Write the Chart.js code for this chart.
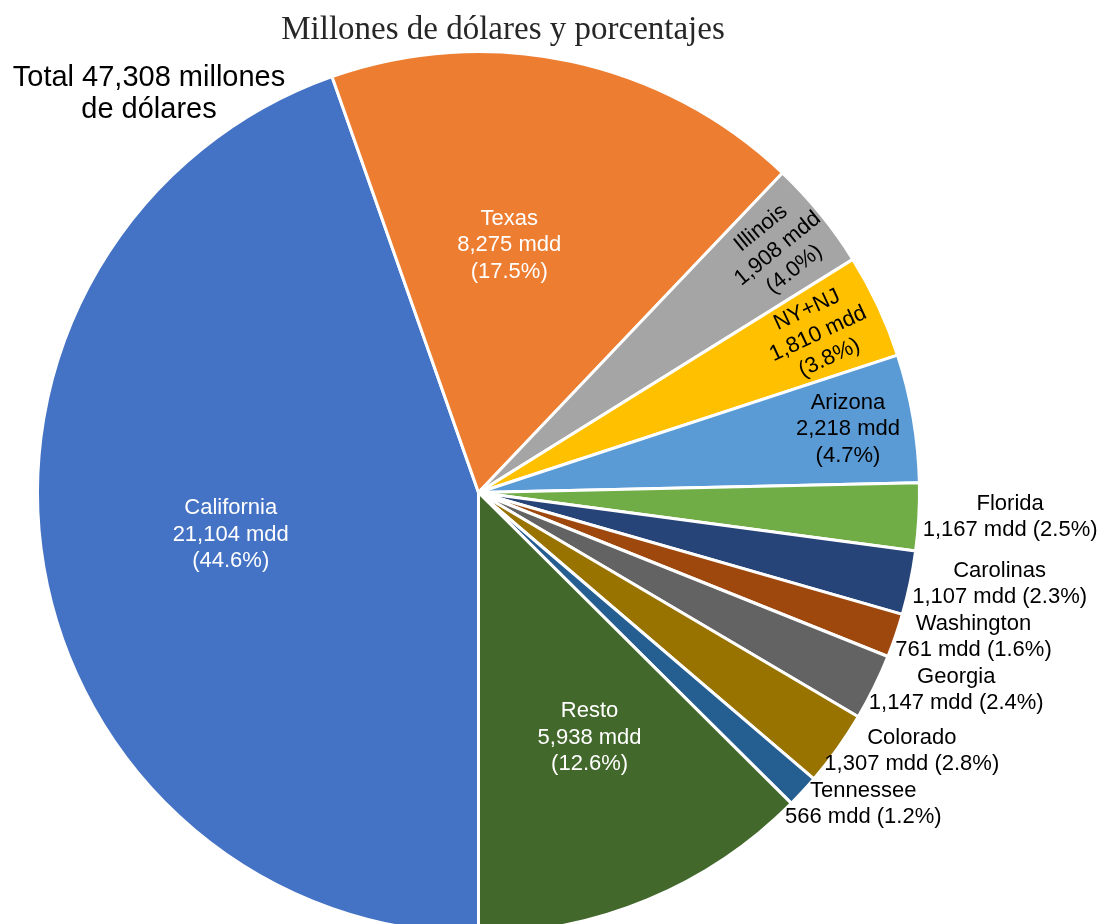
<!DOCTYPE html>
<html>
<head>
<meta charset="utf-8">
<script src="https://cdn.jsdelivr.net/npm/chart.js@4.4.1/dist/chart.umd.min.js"></script>
<style>
  body { margin: 0; background: #fff; }
  #wrap { position: relative; width: 1104px; height: 924px; overflow: hidden; }
  #titulo { position: absolute; left: 0; width: 1006px; top: 10px; text-align: center;
    font-family: "Liberation Serif", serif; font-size: 33px; color: #262626; white-space: nowrap; }
  #total { position: absolute; left: 0; width: 298px; top: 60px; text-align: center;
    font-family: "Liberation Sans", Arial, sans-serif; font-size: 29px; line-height: 32px; color: #000; }
  canvas { position: absolute; left: 0; top: 0; }
</style>
</head>
<body>
<div id="wrap">
  <canvas id="pie" width="1104" height="985"></canvas>
  <div id="titulo">Millones de dólares y porcentajes</div>
  <div id="total">Total 47,308 millones<br>de dólares</div>
</div>
<script>
const estados = ["California", "Texas", "Illinois", "NY+NJ", "Arizona", "Florida", "Carolinas",
                 "Washington", "Georgia", "Colorado", "Tennessee", "Resto"];
const montos = [21104, 8275, 1908, 1810, 2218, 1167, 1107, 761, 1147, 1307, 566, 5938];
const colores = ["#4472C4", "#ED7D31", "#A5A5A5", "#FFC000", "#5B9BD5", "#70AD47", "#264478",
                 "#9E480E", "#636363", "#997300", "#255E91", "#43682B"];

// como se coloca cada etiqueta: dentro, dentro girada, o fuera a la derecha
const modo = { California: 'in', Texas: 'in', Resto: 'in', Illinois: 'rot', 'NY+NJ': 'rot', Arizona: 'edge' };
// pequeños ajustes de la etiqueta dentro de la rebanada (fraccion del radio, grados)
const ajuste = { Texas: { f: 0.565, da: -5 }, Resto: { f: 0.61, da: -1.8 }, Illinois: { f: 0.875 } };

const total = montos.reduce((s, v) => s + v, 0);
const fmt = v => v.toLocaleString('en-US');
const pct = v => (v / total * 100).toFixed(1) + '%';

const etiquetas = {
  id: 'etiquetas',
  afterDatasetsDraw(chart) {
    const ctx = chart.ctx;
    const arcs = chart.getDatasetMeta(0).data;
    ctx.save();
    ctx.font = '22px "Liberation Sans", Arial, sans-serif';
    ctx.textBaseline = 'middle';
    ctx.textAlign = 'center';
    const lh = 26.5;
    let bottomPrev = -Infinity;
    arcs.forEach((arc, i) => {
      const { x, y, startAngle, endAngle, outerRadius } = arc.getProps(['x', 'y', 'startAngle', 'endAngle', 'outerRadius'], true);
      const mid = (startAngle + endAngle) / 2;
      const m = modo[estados[i]] || 'out';
      if (m === 'out') {
        const dx = Math.cos(mid), dy = Math.sin(mid);
        const lines = [estados[i], fmt(montos[i]) + ' mdd (' + pct(montos[i]) + ')'];
        const w = Math.max(...lines.map(t => ctx.measureText(t).width));
        const ax = x + dx * (outerRadius + 4), ay = y + dy * (outerRadius + 4);
        const cx = ax + dx * w / 2;
        let cy = ay;
        if (cy - lh < bottomPrev) cy = bottomPrev + lh;   // evitar que se encimen
        bottomPrev = cy + lh;
        ctx.fillStyle = '#000';
        lines.forEach((t, k) => ctx.fillText(t, cx, cy + (k - 0.5) * lh));
        return;
      }
      const aj = ajuste[estados[i]] || {};
      const a = mid + (aj.da || 0) * Math.PI / 180;
      const f = aj.f || (m === 'in' ? 0.57 : 0.85);
      const cx = x + Math.cos(a) * outerRadius * f, cy = y + Math.sin(a) * outerRadius * f;
      const lines = [estados[i], fmt(montos[i]) + ' mdd', '(' + pct(montos[i]) + ')'];
      ctx.fillStyle = m === 'in' ? '#fff' : '#000';
      ctx.save();
      ctx.translate(cx, cy);
      if (m === 'rot') ctx.rotate(mid);
      lines.forEach((t, k) => ctx.fillText(t, 0, (k - 1) * lh));
      ctx.restore();
    });
    ctx.restore();
  }
};

new Chart(document.getElementById('pie'), {
  type: 'pie',
  data: {
    labels: estados,
    datasets: [{ data: montos, backgroundColor: colores, borderColor: '#fff', borderWidth: 3 }]
  },
  options: {
    responsive: false,
    animation: false,
    rotation: 180,
    layout: { padding: { left: 36, right: 183, top: 50, bottom: 50 } },
    plugins: { legend: { display: false }, tooltip: { enabled: false }, title: { display: false } }
  },
  plugins: [etiquetas]
});
</script>
</body>
</html>
